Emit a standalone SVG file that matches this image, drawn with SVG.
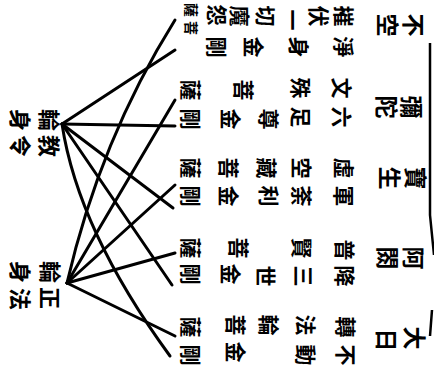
<svg xmlns="http://www.w3.org/2000/svg" width="434" height="376" viewBox="0 0 434 376">
<style>
text{font-family:"Noto Sans CJK TC","Noto Sans CJK JP",sans-serif;font-weight:bold;fill:#000;text-anchor:middle;dominant-baseline:central}
.b{font-size:23px}
.t{font-size:21px}
.s{font-size:14px}
.l{font-size:22px}
.ln{fill:none;stroke:#000;stroke-width:3;stroke-linecap:round}
.br{fill:none;stroke:#000;stroke-width:2.5}
</style>
<rect width="434" height="376" fill="#fff"/>
<g id="connectors">
<path class="ln" d="M62,124 L175,50"/>
<path class="ln" d="M62,124 L175,126"/>
<path class="ln" d="M62,124 L173,208"/>
<path class="ln" d="M62,124 L172,285"/>
<path class="ln" d="M62,124 Q78,230 170,356"/>
<path class="ln" d="M67,283 Q100,140 175,20"/>
<path class="ln" d="M67,283 L175,100"/>
<path class="ln" d="M67,283 L175,185"/>
<path class="ln" d="M67,283 L175,253"/>
<path class="ln" d="M67,283 L175,336"/>
</g>
<path id="bracket" class="br" d="M430,43 L430,215 L434,255 M432,310 L430,336"/>
<g id="node-kyoryo">
<text class="l" x="51" y="120" transform="rotate(90 51 120)">輪</text>
<text class="l" x="51" y="146" transform="rotate(90 51 146)">教</text>
<text class="l" x="22" y="120" transform="rotate(90 22 120)">身</text>
<text class="l" x="22" y="146" transform="rotate(90 22 146)">令</text>
</g>
<g id="node-shobo">
<text class="l" x="52" y="272" transform="rotate(90 52 272)">輪</text>
<text class="l" x="52" y="298" transform="rotate(90 52 298)">正</text>
<text class="l" x="22" y="272" transform="rotate(90 22 272)">身</text>
<text class="l" x="22" y="299" transform="rotate(90 22 299)">法</text>
</g>
<g id="node-fuku">
<text class="b" x="415" y="25" transform="rotate(90 415 25)">不</text>
<text class="b" x="389" y="25" transform="rotate(90 389 25)">空</text>
<text class="t" x="345" y="16" transform="rotate(90 345 16)">摧</text>
<text class="t" x="320" y="16" transform="rotate(90 320 16)">伏</text>
<text class="t" x="294" y="20" transform="rotate(90 294 20)">一</text>
<text class="t" x="267" y="16" transform="rotate(90 267 16)">切</text>
<text class="t" x="241" y="16" transform="rotate(90 241 16)">魔</text>
<text class="t" x="218" y="15" transform="rotate(90 218 15)">怨</text>
<text class="s" x="192" y="28" transform="rotate(90 192 28)">菩</text>
<text class="s" x="192" y="10" transform="rotate(90 192 10)">薩</text>
<text class="t" x="345" y="47" transform="rotate(90 345 47)">淨</text>
<text class="t" x="300" y="47" transform="rotate(90 300 47)">身</text>
<text class="t" x="255" y="47" transform="rotate(90 255 47)">金</text>
<text class="t" x="218" y="47" transform="rotate(90 218 47)">剛</text>
</g>
<g id="node-mida">
<text class="b" x="413" y="107" transform="rotate(90 413 107)">彌</text>
<text class="b" x="388" y="107" transform="rotate(90 388 107)">陀</text>
<text class="t" x="343" y="88" transform="rotate(90 343 88)">文</text>
<text class="t" x="302" y="88" transform="rotate(90 302 88)">殊</text>
<text class="t" x="245" y="90" transform="rotate(90 245 90)">菩</text>
<text class="t" x="192" y="90" transform="rotate(90 192 90)">薩</text>
<text class="t" x="343" y="117" transform="rotate(90 343 117)">六</text>
<text class="t" x="302" y="117" transform="rotate(90 302 117)">足</text>
<text class="t" x="270" y="119" transform="rotate(90 270 119)">尊</text>
<text class="t" x="232" y="119" transform="rotate(90 232 119)">金</text>
<text class="t" x="192" y="119" transform="rotate(90 192 119)">剛</text>
</g>
<g id="node-hosho">
<text class="b" x="417" y="178" transform="rotate(90 417 178)">寶</text>
<text class="b" x="391" y="178" transform="rotate(90 391 178)">生</text>
<text class="t" x="345" y="168" transform="rotate(90 345 168)">虛</text>
<text class="t" x="303" y="168" transform="rotate(90 303 168)">空</text>
<text class="t" x="268" y="168" transform="rotate(90 268 168)">藏</text>
<text class="t" x="230" y="168" transform="rotate(90 230 168)">菩</text>
<text class="t" x="192" y="168" transform="rotate(90 192 168)">薩</text>
<text class="t" x="345" y="196" transform="rotate(90 345 196)">軍</text>
<text class="t" x="303" y="196" transform="rotate(90 303 196)">荼</text>
<text class="t" x="270" y="196" transform="rotate(90 270 196)">利</text>
<text class="t" x="230" y="196" transform="rotate(90 230 196)">金</text>
<text class="t" x="192" y="196" transform="rotate(90 192 196)">剛</text>
</g>
<g id="node-ashuku">
<text class="b" x="415" y="258" transform="rotate(90 415 258)">阿</text>
<text class="b" x="389" y="258" transform="rotate(90 389 258)">閦</text>
<text class="t" x="346" y="250" transform="rotate(90 346 250)">普</text>
<text class="t" x="303" y="248" transform="rotate(90 303 248)">賢</text>
<text class="t" x="240" y="248" transform="rotate(90 240 248)">菩</text>
<text class="t" x="192" y="248" transform="rotate(90 192 248)">薩</text>
<text class="t" x="346" y="276" transform="rotate(90 346 276)">降</text>
<text class="t" x="305" y="276" transform="rotate(90 305 276)">三</text>
<text class="t" x="267" y="276" transform="rotate(90 267 276)">世</text>
<text class="t" x="232" y="274" transform="rotate(90 232 274)">金</text>
<text class="t" x="192" y="274" transform="rotate(90 192 274)">剛</text>
</g>
<g id="node-dainichi">
<text class="b" x="416" y="338" transform="rotate(90 416 338)">大</text>
<text class="b" x="388" y="340" transform="rotate(90 388 340)">日</text>
<text class="t" x="347" y="327" transform="rotate(90 347 327)">轉</text>
<text class="t" x="307" y="325" transform="rotate(90 307 325)">法</text>
<text class="t" x="270" y="325" transform="rotate(90 270 325)">輪</text>
<text class="t" x="237" y="325" transform="rotate(90 237 325)">菩</text>
<text class="t" x="192" y="327" transform="rotate(90 192 327)">薩</text>
<text class="t" x="347" y="355" transform="rotate(90 347 355)">不</text>
<text class="t" x="307" y="355" transform="rotate(90 307 355)">動</text>
<text class="t" x="237" y="352" transform="rotate(90 237 352)">金</text>
<text class="t" x="192" y="355" transform="rotate(90 192 355)">剛</text>
</g>
</svg>
